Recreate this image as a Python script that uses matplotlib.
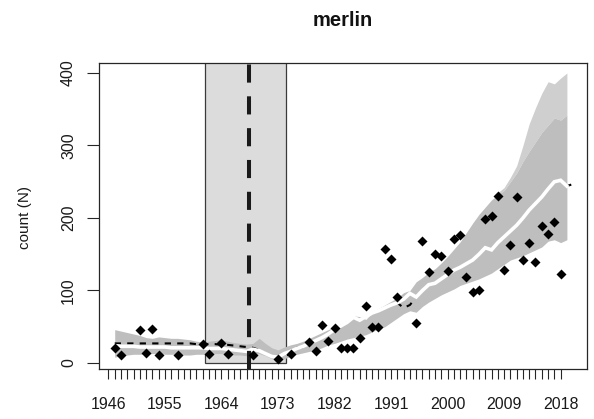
import matplotlib
matplotlib.use("Agg")
import matplotlib.pyplot as plt
from matplotlib.patches import Rectangle

plt.rcParams['font.family'] = ['Liberation Sans', 'DejaVu Sans']

# ---- observed counts -------------------------------------------------
obs_years = [1947, 1948, 1951, 1952, 1953, 1954, 1957, 1961, 1962, 1964, 1965,
             1969, 1973, 1975, 1978, 1979, 1980, 1981, 1982, 1983, 1984, 1985,
             1986, 1987, 1988, 1989, 1990, 1991, 1992, 1995, 1996, 1997, 1998,
             1999, 2000, 2001, 2002, 2003, 2004, 2005, 2006, 2007, 2008, 2009,
             2010, 2011, 2012, 2013, 2014, 2015, 2016, 2017, 2018]
obs_counts = [21, 11, 45, 14, 47, 11, 11, 26, 12, 28, 12,
              11, 5, 12, 29, 17, 52, 30, 48, 20, 20, 20,
              35, 78, 50, 49, 157, 143, 91, 55, 168, 125, 151,
              148, 127, 171, 176, 119, 98, 101, 198, 203, 231, 128,
              163, 229, 142, 165, 139, 189, 178, 194, 123]

# ---- simulated trajectories (summary) --------------------------------
sim_years = list(range(1947, 2020))
sim_median = [24, 23, 23, 23, 22, 22, 22, 22, 22, 21, 21, 21, 21, 21, 21, 20,
              20, 20, 19, 18, 17, 16, 19, 17, 13, 9, 8, 13, 16, 20, 23, 27,
              31, 35, 40, 46, 51, 56, 63, 59, 64, 69, 72, 76, 80, 83, 88, 96,
              91, 100, 108, 110, 116, 122, 128, 132, 137, 142, 150, 159, 156,
              166, 174, 182, 190, 200, 211, 220, 229, 240, 250, 252, 244]
sim_lower = [8, 10, 11, 12, 12, 12, 13, 13, 12, 12, 12, 11, 11, 12, 12, 12,
             13, 13, 12, 11, 11, 10, 11, 13, 10, 6, 4, 6, 9, 12, 14, 16,
             18, 21, 25, 27, 30, 33, 35, 37, 39, 43, 47, 50, 56, 62, 68, 72,
             70, 78, 84, 89, 94, 98, 102, 107, 110, 113, 116, 120, 124, 130,
             136, 142, 145, 148, 152, 156, 160, 168, 170, 166, 170]
sim_upper = [46, 44, 42, 40, 38, 35, 34, 36, 35, 34, 34, 33, 32, 30, 29, 30,
             31, 32, 30, 28, 27, 26, 27, 34, 27, 21, 18, 22, 25, 27, 30, 34,
             38, 42, 46, 50, 54, 58, 65, 64, 60, 70, 75, 80, 85, 90, 97, 100,
             112, 118, 125, 130, 138, 147, 157, 167, 180, 193, 205, 215, 225,
             232, 238, 250, 262, 278, 292, 305, 318, 328, 338, 335, 342]
tail_years = list(range(2008, 2020))
tail_upper = [235, 242, 256, 272, 300, 330, 352, 372, 388, 385, 393, 400]

# ---- fitted trend ------------------------------------------------------
trend_years = list(range(1947, 2021))
trend_vals = [27, 27, 27, 27, 27, 27, 27, 27, 27, 27, 27, 27, 27, 26, 26, 26,
              26, 25, 25, 24, 23, 22, 21, 18, 13, 9, 7, 9, 13, 21, 22, 27,
              31, 35, 40, 46, 51, 56, 63, 59, 64, 69, 72, 76, 80, 83, 76, 80,
              91, 100, 108, 110, 116, 122, 128, 132, 137, 142, 150, 159, 156,
              166, 174, 182, 190, 200, 211, 220, 229, 240, 250, 252, 244, 247]

# ---- highlighted period and break year ---------------------------------
period_start, period_end = 1961.4, 1974.3
break_year = 1968.4

tick_years = list(range(1946, 2019))
label_years = list(range(1946, 2019, 9))
y_ticks = [0, 100, 200, 300, 400]

fig = plt.figure(figsize=(5.94, 4.19), dpi=100)
ax = fig.add_axes([99 / 594, 1 - 369 / 419, 488 / 594, 306 / 419])
ax.set_xlim(1944.5, 2022.2)
ax.set_ylim(-8.3, 413.8)

ax.add_patch(Rectangle((period_start, 0), period_end - period_start, 500,
                       facecolor='#dcdcdc', edgecolor='#3a3a3a', lw=0.9,
                       zorder=1))

ax.fill_between(tail_years, sim_upper[-len(tail_years):], tail_upper,
                color='#cfcfcf', lw=0, zorder=2)
ax.fill_between(sim_years, sim_lower, sim_upper, color='#bebebe', lw=0,
                zorder=2)

ax.plot(trend_years, trend_vals, color='black', lw=1.5, dashes=(3, 3),
        zorder=3)
ax.plot(sim_years, sim_median, color='white', lw=2.6, zorder=4,
        solid_joinstyle='miter')

ax.axvline(break_year, color='#1a1a1a', lw=2.9, dashes=(4.5, 3.4),
           dash_capstyle='butt', zorder=5)

ax.plot(obs_years, obs_counts, ls='none', marker='D', ms=5.2, color='black',
        mec='none', zorder=6)

for s in ax.spines.values():
    s.set_color('#262626')
    s.set_linewidth(0.9)
    s.set_zorder(7)

ax.set_xticks(tick_years)
ax.set_xticklabels([str(y) if y in label_years else '' for y in tick_years])
ax.set_yticks(y_ticks)
ax.set_yticklabels([str(v) for v in y_ticks], rotation=90, va='center')
ax.tick_params(axis='x', length=7.5, width=0.8, color='#262626', pad=12.5,
               labelsize=11.5, labelcolor='#1a1a1a')
ax.tick_params(axis='y', length=8.5, width=0.8, color='#262626', pad=8,
               labelsize=11.5, labelcolor='#1a1a1a')

fig.text(25 / 594, 1 - 217 / 419, 'count (N)', rotation=90, ha='center',
         va='center', fontsize=11, color='#1a1a1a')
fig.text(343 / 594, 1 - 21 / 419, 'merlin', ha='center', va='center',
         fontsize=14.5, fontweight='bold', color='#111111')

fig.savefig('out.png', dpi=100)
